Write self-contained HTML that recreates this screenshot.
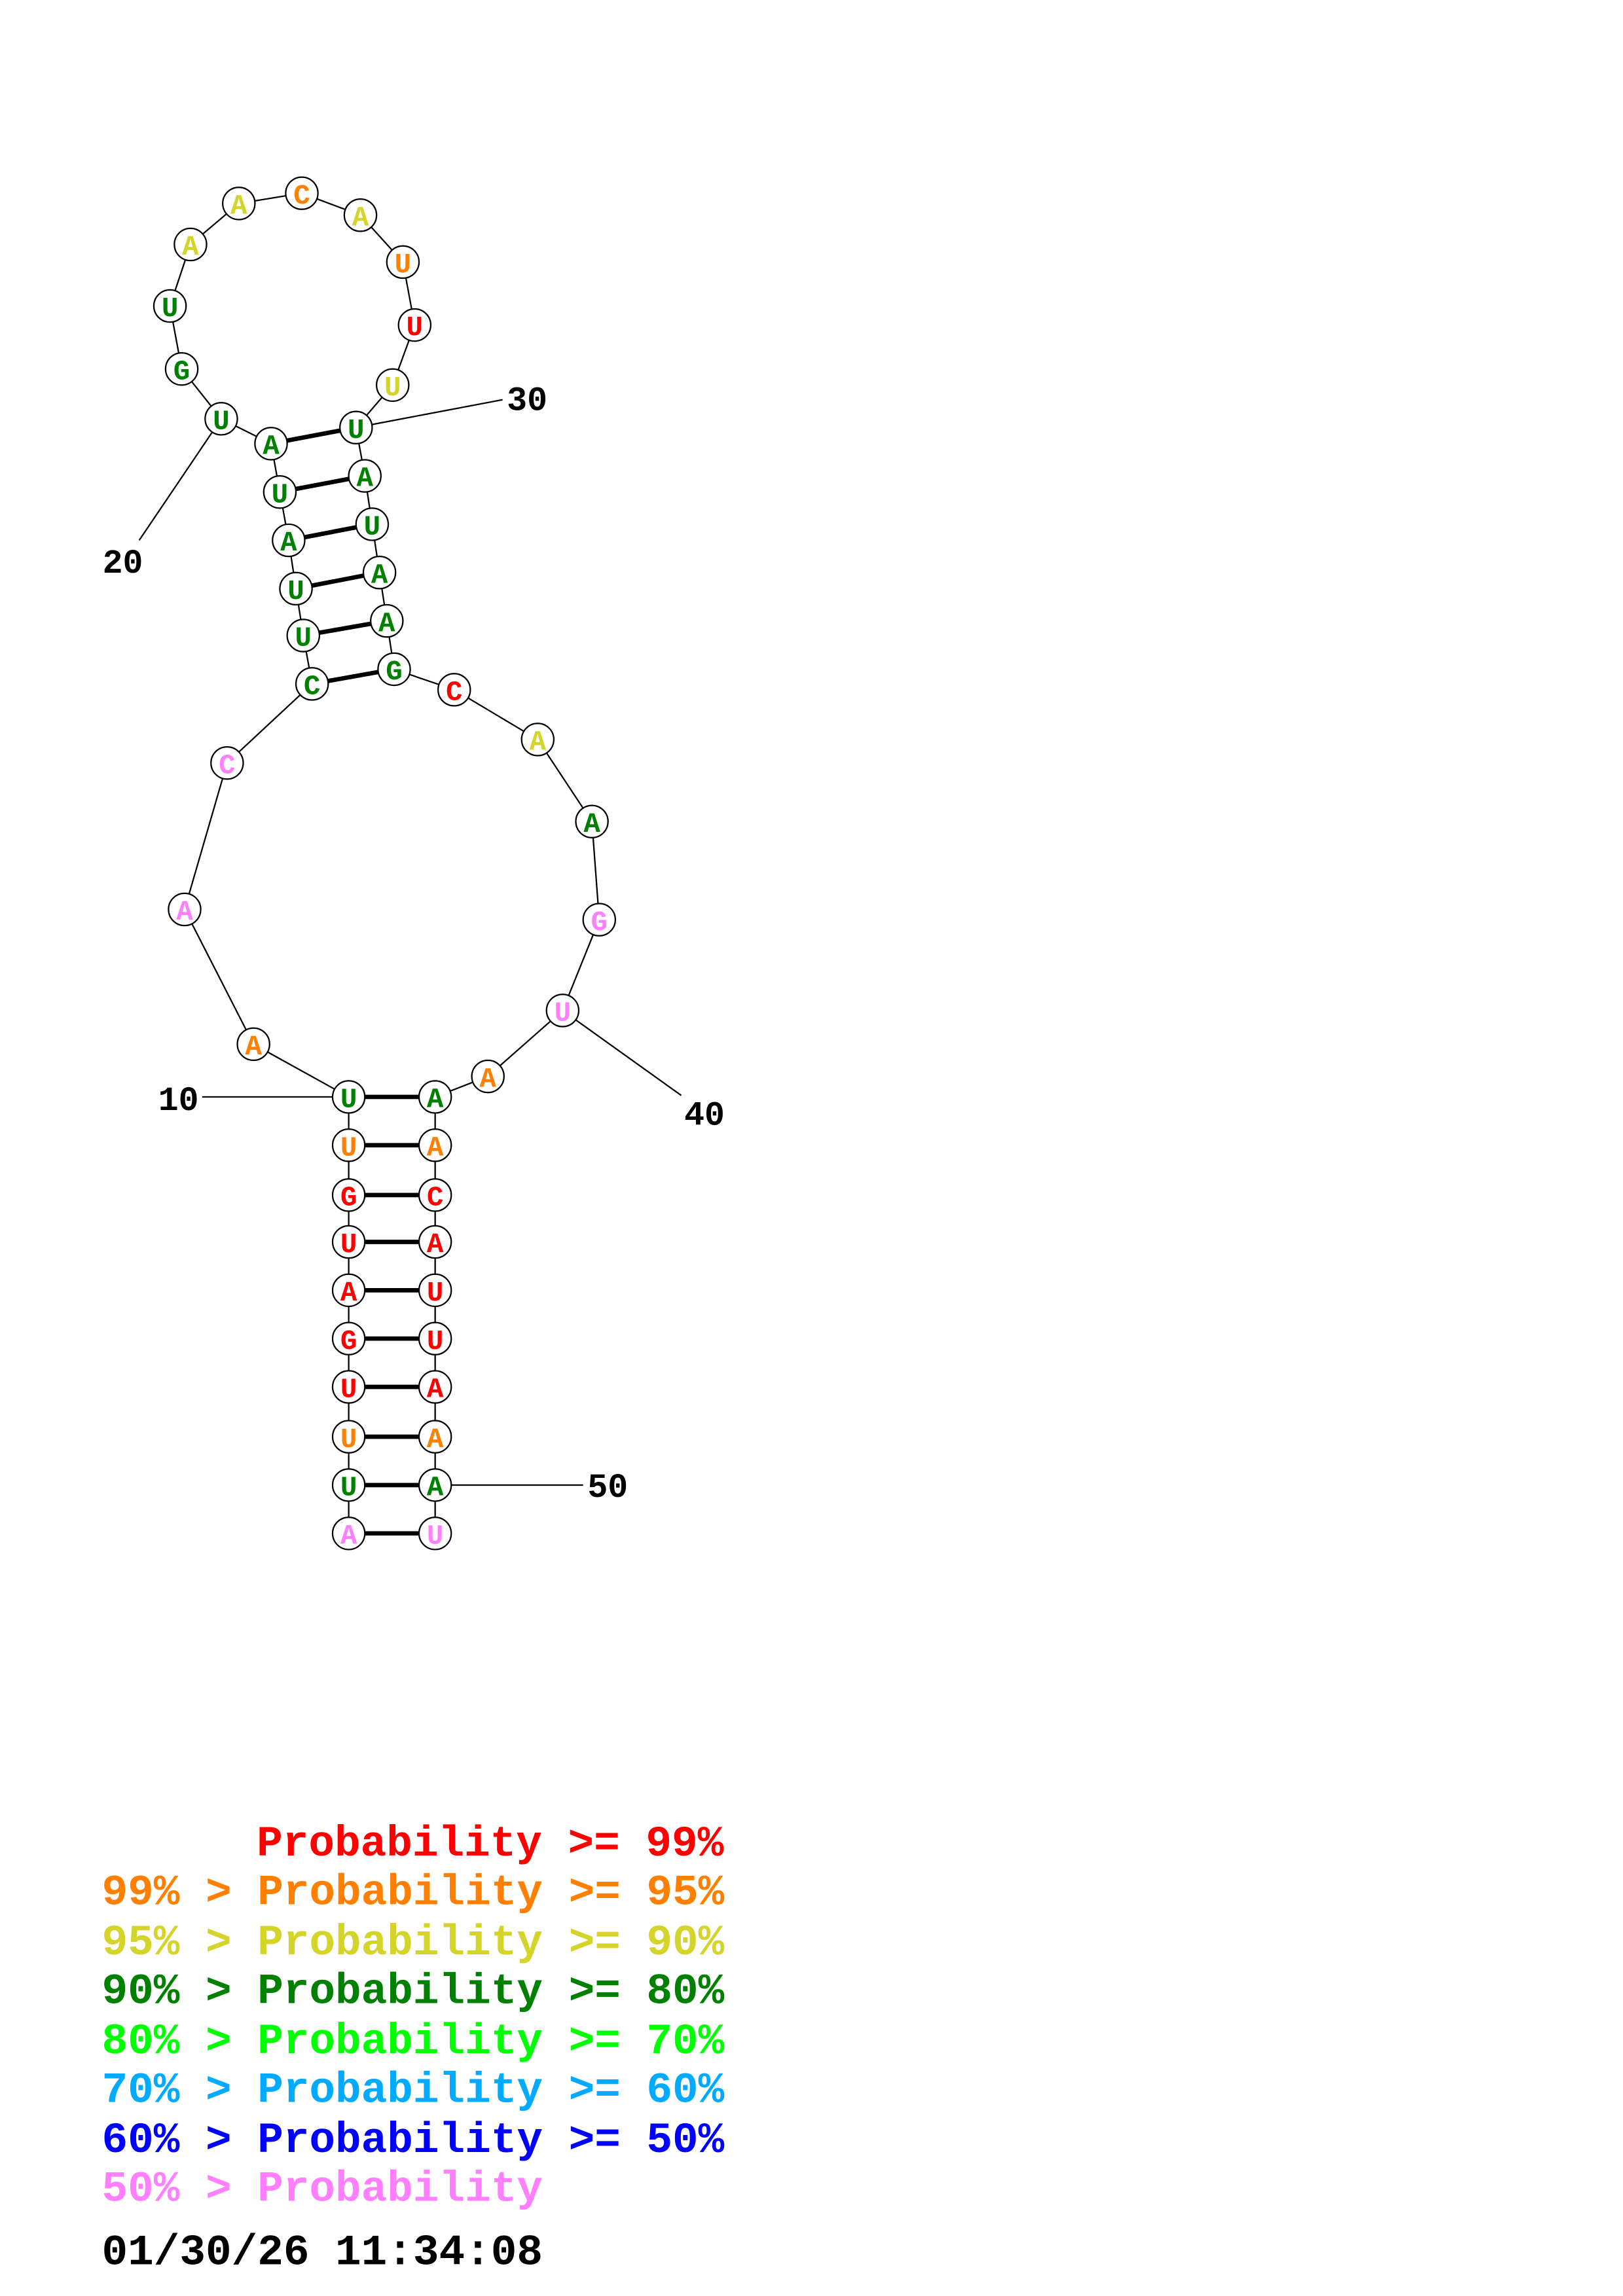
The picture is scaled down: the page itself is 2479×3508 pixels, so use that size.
<!DOCTYPE html>
<html><head><meta charset="utf-8"><style>
html,body{margin:0;padding:0;background:#fff}
svg{display:block}
text{font-family:"Liberation Mono",monospace;font-weight:bold}
</style></head><body>
<svg width="2479" height="3508" viewBox="0 0 1100 1556.6" xmlns="http://www.w3.org/2000/svg">
<g transform="translate(0,0.9) scale(0.993)">
<g stroke="#000" stroke-width="1" fill="none">
<polyline points="238,1046 238,1013 238,980 238,946 238,913 238,880 238,847 238,815 238,781 238,748 173,712 126,620 155,520 213,466 207,433 202,401 197,368 191,335 185,302 151,285 124,251 116,208 130,166 163,138 206,131 246,146 275,178 283,221 268,262 243,291 249,324 254,357 259,390 264,423 269,456 310,470 367,504 404,560 409,627 384,689 333,734 297,748 297,781 297,815 297,847 297,880 297,913 297,946 297,980 297,1013 297,1046"/>
<line x1="151" y1="285" x2="95" y2="368"/>
<line x1="243" y1="291" x2="343" y2="272"/>
<line x1="138" y1="748" x2="238" y2="748"/>
<line x1="384" y1="689" x2="465" y2="747"/>
<line x1="297" y1="1013" x2="398" y2="1013"/>
</g>
<g stroke="#000" stroke-width="3">
<line x1="238" y1="1046" x2="297" y2="1046"/><line x1="238" y1="1013" x2="297" y2="1013"/>
<line x1="238" y1="980" x2="297" y2="980"/><line x1="238" y1="946" x2="297" y2="946"/>
<line x1="238" y1="913" x2="297" y2="913"/><line x1="238" y1="880" x2="297" y2="880"/>
<line x1="238" y1="847" x2="297" y2="847"/><line x1="238" y1="815" x2="297" y2="815"/>
<line x1="238" y1="781" x2="297" y2="781"/><line x1="238" y1="748" x2="297" y2="748"/>
<line x1="213" y1="466" x2="269" y2="456"/><line x1="207" y1="433" x2="264" y2="423"/>
<line x1="202" y1="401" x2="259" y2="390"/><line x1="197" y1="368" x2="254" y2="357"/>
<line x1="191" y1="335" x2="249" y2="324"/><line x1="185" y1="302" x2="243" y2="291"/>
</g>
<g stroke="#000" stroke-width="1" fill="#fff">
<circle cx="238" cy="1046" r="11"/><circle cx="238" cy="1013" r="11"/><circle cx="238" cy="980" r="11"/><circle cx="238" cy="946" r="11"/><circle cx="238" cy="913" r="11"/><circle cx="238" cy="880" r="11"/><circle cx="238" cy="847" r="11"/><circle cx="238" cy="815" r="11"/><circle cx="238" cy="781" r="11"/><circle cx="238" cy="748" r="11"/>
<circle cx="173" cy="712" r="11"/><circle cx="126" cy="620" r="11"/><circle cx="155" cy="520" r="11"/><circle cx="213" cy="466" r="11"/><circle cx="207" cy="433" r="11"/><circle cx="202" cy="401" r="11"/><circle cx="197" cy="368" r="11"/><circle cx="191" cy="335" r="11"/><circle cx="185" cy="302" r="11"/><circle cx="151" cy="285" r="11"/>
<circle cx="124" cy="251" r="11"/><circle cx="116" cy="208" r="11"/><circle cx="130" cy="166" r="11"/><circle cx="163" cy="138" r="11"/><circle cx="206" cy="131" r="11"/><circle cx="246" cy="146" r="11"/><circle cx="275" cy="178" r="11"/><circle cx="283" cy="221" r="11"/><circle cx="268" cy="262" r="11"/><circle cx="243" cy="291" r="11"/>
<circle cx="249" cy="324" r="11"/><circle cx="254" cy="357" r="11"/><circle cx="259" cy="390" r="11"/><circle cx="264" cy="423" r="11"/><circle cx="269" cy="456" r="11"/><circle cx="310" cy="470" r="11"/><circle cx="367" cy="504" r="11"/><circle cx="404" cy="560" r="11"/><circle cx="409" cy="627" r="11"/><circle cx="384" cy="689" r="11"/>
<circle cx="333" cy="734" r="11"/><circle cx="297" cy="748" r="11"/><circle cx="297" cy="781" r="11"/><circle cx="297" cy="815" r="11"/><circle cx="297" cy="847" r="11"/><circle cx="297" cy="880" r="11"/><circle cx="297" cy="913" r="11"/><circle cx="297" cy="946" r="11"/><circle cx="297" cy="980" r="11"/><circle cx="297" cy="1013" r="11"/><circle cx="297" cy="1046" r="11"/>
</g>
<g font-size="19" text-anchor="middle">
<text x="238" y="1053" fill="#ff80ff">A</text><text x="238" y="1020" fill="#008000">U</text><text x="238" y="987" fill="#ff8000">U</text><text x="238" y="953" fill="#ff0000">U</text><text x="238" y="920" fill="#ff0000">G</text><text x="238" y="887" fill="#ff0000">A</text><text x="238" y="854" fill="#ff0000">U</text><text x="238" y="822" fill="#ff0000">G</text><text x="238" y="788" fill="#ff8000">U</text><text x="238" y="755" fill="#008000">U</text>
<text x="173" y="719" fill="#ff8000">A</text><text x="126" y="627" fill="#ff80ff">A</text><text x="155" y="527" fill="#ff80ff">C</text><text x="213" y="473" fill="#008000">C</text><text x="207" y="440" fill="#008000">U</text><text x="202" y="408" fill="#008000">U</text><text x="197" y="375" fill="#008000">A</text><text x="191" y="342" fill="#008000">U</text><text x="185" y="309" fill="#008000">A</text><text x="151" y="292" fill="#008000">U</text>
<text x="124" y="258" fill="#008000">G</text><text x="116" y="215" fill="#008000">U</text><text x="130" y="173" fill="#d4d42a">A</text><text x="163" y="145" fill="#d4d42a">A</text><text x="206" y="138" fill="#ff8000">C</text><text x="246" y="153" fill="#d4d42a">A</text><text x="275" y="185" fill="#ff8000">U</text><text x="283" y="228" fill="#ff0000">U</text><text x="268" y="269" fill="#d4d42a">U</text><text x="243" y="298" fill="#008000">U</text>
<text x="249" y="331" fill="#008000">A</text><text x="254" y="364" fill="#008000">U</text><text x="259" y="397" fill="#008000">A</text><text x="264" y="430" fill="#008000">A</text><text x="269" y="463" fill="#008000">G</text><text x="310" y="477" fill="#ff0000">C</text><text x="367" y="511" fill="#d4d42a">A</text><text x="404" y="567" fill="#008000">A</text><text x="409" y="634" fill="#ff80ff">G</text><text x="384" y="696" fill="#ff80ff">U</text>
<text x="333" y="741" fill="#ff8000">A</text><text x="297" y="755" fill="#008000">A</text><text x="297" y="788" fill="#ff8000">A</text><text x="297" y="822" fill="#ff0000">C</text><text x="297" y="854" fill="#ff0000">A</text><text x="297" y="887" fill="#ff0000">U</text><text x="297" y="920" fill="#ff0000">U</text><text x="297" y="953" fill="#ff0000">A</text><text x="297" y="987" fill="#ff8000">A</text><text x="297" y="1020" fill="#008000">A</text><text x="297" y="1053" fill="#ff80ff">U</text>
</g>
<g font-size="23" fill="#000">
<text x="70" y="390">20</text><text x="346" y="279">30</text><text x="108" y="757">10</text><text x="467" y="767">40</text><text x="401" y="1021">50</text>
</g>
</g>
<g font-size="29.3">
<text x="174" y="1258" fill="#ff0000">Probability &gt;= 99%</text>
<text x="69" y="1291" fill="#ff8000">99% &gt; Probability &gt;= 95%</text>
<text x="69" y="1325" fill="#d4d42a">95% &gt; Probability &gt;= 90%</text>
<text x="69" y="1358" fill="#008000">90% &gt; Probability &gt;= 80%</text>
<text x="69" y="1392" fill="#00ff00">80% &gt; Probability &gt;= 70%</text>
<text x="69" y="1425" fill="#00aaff">70% &gt; Probability &gt;= 60%</text>
<text x="69" y="1459" fill="#0000ff">60% &gt; Probability &gt;= 50%</text>
<text x="69" y="1492" fill="#ff80ff">50% &gt; Probability</text>
<text x="69" y="1535" fill="#000">01/30/26 11:34:08</text>
</g>
</svg>
</body></html>
